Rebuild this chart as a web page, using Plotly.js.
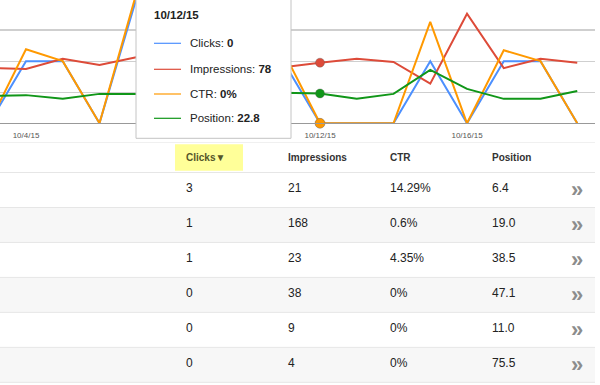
<!DOCTYPE html>
<html><head><meta charset="utf-8">
<script src="https://cdn.plot.ly/plotly-3.0.1.min.js"></script>
<style>html,body{margin:0;padding:0;background:#fff}#chart{width:600px;height:385px}</style>
</head><body><div id="chart"></div>
<script>
// ---- chart data (daily) ----
const dates = ['2015-10-03','2015-10-04','2015-10-05','2015-10-06','2015-10-07','2015-10-08','2015-10-09','2015-10-10','2015-10-11','2015-10-12','2015-10-13','2015-10-14','2015-10-15','2015-10-16','2015-10-17','2015-10-18','2015-10-19'];
const clicks = [0,1,1,0,2,1,0,1,1,0,0,0,1,0,1,1,0];
const impressions = [71,70,83,75,85,90,80,75,72,78,83,79,51,141,71,83,78];
const ctr = [0,1.43,1.2,0,2.5,1.11,0,1.33,1.39,0,0,0,1.96,0,1.41,1.2,0];
const position = [23.4,23.2,24.1,22.9,22.9,22.0,23.5,23.8,22.6,22.8,24.1,22.9,17.1,21.7,24.1,24.1,22.2];
const tickDates = ['2015-10-04','2015-10-08','2015-10-12','2015-10-16'];
const tickLabels = ['10/4/15','10/8/15','10/12/15','10/16/15'];
const hoverIndex = 9;
const tooltipDate = '10/12/15';

// ---- table data ----
const tableHeaders = ['Clicks▼','Impressions','CTR','Position'];
const tblClicks = [3,1,1,0,0,0];
const tblImpressions = [21,168,23,38,9,4];
const tblCtr = ['14.29%','0.6%','4.35%','0%','0%','0%'];
const tblPosition = ['6.4','19.0','38.5','47.1','11.0','75.5'];

// ---- layout constants ----
const W = 600, Hh = 385;
const COLORS = {clicks:'#4d90fe', impr:'#dd4b39', ctr:'#ff9900', pos:'#109618'};
const FONT = 'Arial, "Liberation Sans", sans-serif';
const plotBottomPx = 123.3, gridPx = 31.075;
const k = plotBottomPx / gridPx;
const xf = px => px / W, yf = py => 1 - py / Hh;
const rowH = 34.97, row0 = 190; // centre of first data row
const toRow = py => (py - row0) / rowH;
const colX = [185, 287, 389, 491];
const chevX = 577;

const traces = [];
function series(y, color, axis){
  traces.push({x: dates, y: y, type:'scatter', mode:'lines', yaxis: axis,
    line:{color: color, width: 2}, hoverinfo:'skip', cliponaxis:true});
}
series(clicks, COLORS.clicks, 'y');
series(impressions, COLORS.impr, 'y3');
series(ctr, COLORS.ctr, 'y4');
series(position, COLORS.pos, 'y5');
function marker(y, color, axis, size){
  traces.push({x:[dates[hoverIndex]], y:[y[hoverIndex]], type:'scatter', mode:'markers', yaxis:axis,
    marker:{color: color, size: size, line:{color:'rgba(90,90,90,0.35)', width:1}}, hoverinfo:'skip', cliponaxis:false});
}
marker(impressions, COLORS.impr, 'y3', 9);
marker(position, COLORS.pos, 'y5', 9);
marker(clicks, COLORS.clicks, 'y', 9);
marker(ctr, COLORS.ctr, 'y4', 10);

const shapes = [];
const annotations = [];
function txt(o){ o.showarrow = false; o.xanchor = o.xanchor || 'left'; o.align = o.align || 'left'; o.yanchor = 'middle'; o.borderpad = 0; annotations.push(o); }
// table row backgrounds and separators
const nRows = tblClicks.length;
for (let i = 0; i < nRows; i++) {
  if (i % 2 === 1) shapes.push({type:'rect', xref:'paper', yref:'y2', x0:0, x1:xf(595), y0:i-0.5, y1:i+0.5, fillcolor:'#f7f7f7', line:{width:0}, layer:'below'});
}
for (let i = -1; i < nRows; i++) {
  shapes.push({type:'line', xref:'paper', yref:'y2', x0:0, x1:xf(595), y0:i+0.5, y1:i+0.5, line:{color:'#e6e6e6', width:1}});
}
shapes.push({type:'line', xref:'paper', yref:'y2', x0:0, x1:xf(595), y0:toRow(142.3), y1:toRow(142.3), line:{color:'#e6e6e6', width:1}});
// sort highlight
shapes.push({type:'rect', xref:'x2', yref:'y2', x0:175, x1:243, y0:toRow(144.3), y1:toRow(170.7), fillcolor:'#ffff99', line:{width:0}});

// header texts
const headerRow = toRow(157.3);
tableHeaders.forEach((h, j) => {
  txt({xref:'x2', yref:'y2', x: colX[j], y: headerRow, text:'<b>'+h+'</b>',
    font:{family:FONT, size:10, color: j===0 ? '#55552a' : '#333'}});
});
// body texts
const cols = [tblClicks, tblImpressions, tblCtr, tblPosition];
for (let i = 0; i < nRows; i++) {
  cols.forEach((c, j) => {
    txt({xref:'x2', yref:'y2', x: colX[j], y: i - 0.06, text: String(c[i]),
      font:{family:FONT, size:12, color:'#222'}});
  });
  txt({xref:'x2', yref:'y2', x: chevX, y: i - 0.02, text:'<b>»</b>', xanchor:'center', align:'center',
    font:{family:FONT, size:22, color:'#8c8c8c'}});
}

// tooltip box
shapes.push({type:'rect', xref:'paper', yref:'paper', x0:xf(136), x1:xf(291), y0:yf(138.3), y1:1.02, fillcolor:'#fff', line:{color:'#c4c4c4', width:1}, layer:'above'});
txt({xref:'paper', yref:'paper', x:xf(153), y:yf(15), text:'<b>'+tooltipDate+'</b>',
  font:{family:FONT, size:11.5, color:'#222'}});
const tipItems = [
  ['Clicks', String(clicks[hoverIndex]), COLORS.clicks, 43.3],
  ['Impressions', String(impressions[hoverIndex]), COLORS.impr, 69.3],
  ['CTR', ctr[hoverIndex]+'%', COLORS.ctr, 94],
  ['Position', String(position[hoverIndex]), COLORS.pos, 118.3]
];
tipItems.forEach(t => {
  shapes.push({type:'line', xref:'paper', yref:'paper', x0:xf(154), x1:xf(181), y0:yf(t[3]), y1:yf(t[3]), line:{color:t[2], width:1.2}, layer:'above'});
  txt({xref:'paper', yref:'paper', x:xf(189), y:yf(t[3]), text:t[0]+': <b>'+t[1]+'</b>',
    font:{family:FONT, size:11.5, color:'#222'}});
});

const yDom = [yf(plotBottomPx), 1];
const layout = {
  width: W, height: Hh, margin:{l:0, r:0, t:0, b:0},
  paper_bgcolor:'#fff', plot_bgcolor:'#fff', showlegend:false,
  font:{family:FONT},
  xaxis:{type:'date', domain:[0, xf(595)], range:['2015-10-03 07:02','2015-10-19 11:35'],
    tickvals: tickDates, ticktext: tickLabels, showgrid:false, zeroline:false,
    showline:true, linecolor:'#999', linewidth:1, ticks:'outside', ticklen:4, tickcolor:'rgba(0,0,0,0)',
    tickfont:{family:FONT, size:8, color:'#555'}, fixedrange:true},
  yaxis:{domain:yDom, range:[0, k*0.5], dtick:0.5, tick0:0, showgrid:true, gridcolor:'#cfcfcf', gridwidth:1.3,
    zeroline:false, showticklabels:false, ticks:'', fixedrange:true},
  yaxis3:{overlaying:'y', range:[0, k*40], visible:false, showgrid:false},
  yaxis4:{overlaying:'y', range:[0, k*0.6], visible:false, showgrid:false},
  yaxis5:{overlaying:'y', range:[30, 30 - k*7.5], visible:false, showgrid:false},
  xaxis2:{domain:[0,1], range:[0, W], visible:false, anchor:'y2', fixedrange:true},
  yaxis2:{domain:[0, yf(142.3)], range:[toRow(Hh), toRow(142.3)], visible:false, anchor:'x2', fixedrange:true},
  shapes: shapes, annotations: annotations
};
// dummy trace so the table axes exist
traces.push({x:[0], y:[0], xaxis:'x2', yaxis:'y2', type:'scatter', mode:'markers', marker:{opacity:0}, hoverinfo:'skip'});

Plotly.newPlot('chart', traces, layout, {displayModeBar:false, staticPlot:true});
</script></body></html>
